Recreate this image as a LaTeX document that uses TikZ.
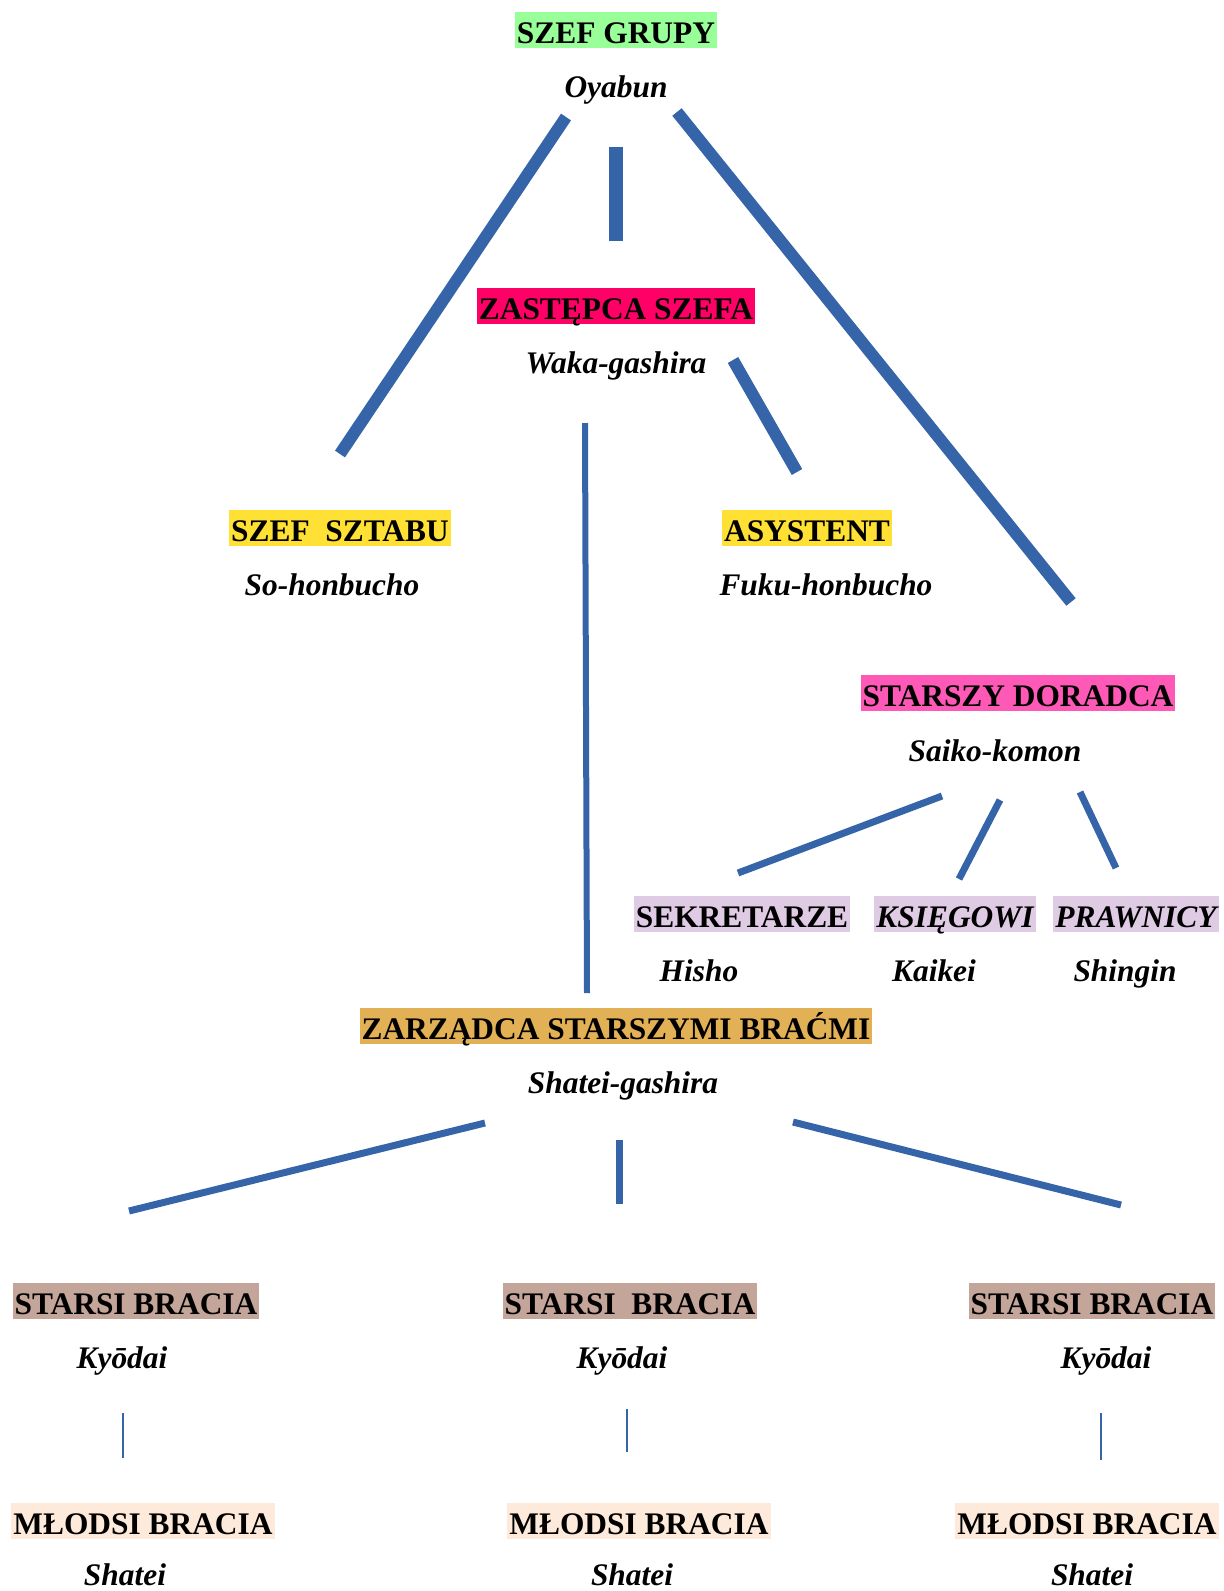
\documentclass[tikz,border=0pt]{standalone}
\usepackage{fontspec}
\setmainfont{Liberation Serif}
\definecolor{lineblue}{HTML}{3565A8}
\definecolor{cgreen}{HTML}{99FF99}
\definecolor{cred}{HTML}{FF0066}
\definecolor{cyellow}{HTML}{FFE135}
\definecolor{cpink}{HTML}{FF59B8}
\definecolor{clav}{HTML}{DFCBE4}
\definecolor{cgold}{HTML}{E2B055}
\definecolor{ctaupe}{HTML}{C4A59A}
\definecolor{cpeach}{HTML}{FDEADA}
\tikzset{
  rolebox/.style={fill=#1, font=\fontsize{15.7}{18}\selectfont\bfseries, inner xsep=1pt, inner ysep=0pt, text height=15.5pt, text depth=2.5pt},
  romaji/.style={font=\fontsize{15.7}{18}\selectfont\bfseries\itshape, inner sep=0pt, text height=15.5pt, text depth=2.5pt},
  conn/.style={draw=lineblue, line width=#1},
}
\begin{document}
\begin{tikzpicture}[x=0.5pt,y=-0.5pt]
\useasboundingbox (0,0) rectangle (1224,1591);
% level 0
\node[rolebox=cgreen] (szef) at (616,30) {SZEF GRUPY};
\node[romaji] (oyabun) at (616,84) {Oyabun};
% level 1
\node[rolebox=cred] (zast) at (616,306) {ZASTĘPCA SZEFA};
\node[romaji] (waka) at (616,360) {Waka-gashira};
% level 2
\node[rolebox=cyellow] (sztab) at (340,528) {SZEF\ \ SZTABU};
\node[romaji] (sohon) at (332,582) {So-honbucho};
\node[rolebox=cyellow] (asys) at (807,528) {ASYSTENT};
\node[romaji] (fuku) at (826,582) {Fuku-honbucho};
% advisor
\node[rolebox=cpink] (dor) at (1018,693) {STARSZY DORADCA};
\node[romaji] (saiko) at (995,748) {Saiko-komon};
\node[rolebox=clav] (sekr) at (742,914) {SEKRETARZE};
\node[romaji] (hisho) at (699,968) {Hisho};
\node[rolebox=clav,font=\fontsize{15.7}{18}\selectfont\bfseries\itshape] (ksieg) at (955,914) {KSIĘGOWI};
\node[romaji] (kaikei) at (934,968) {Kaikei};
\node[rolebox=clav,font=\fontsize{15.7}{18}\selectfont\bfseries\itshape] (praw) at (1136,914) {PRAWNICY};
\node[romaji] (shingin) at (1125,968) {Shingin};
% shatei-gashira
\node[rolebox=cgold] (zarz) at (616,1026) {ZARZĄDCA STARSZYMI BRAĆMI};
\node[romaji] (shg) at (623,1080) {Shatei-gashira};
% elder brothers
\node[rolebox=ctaupe] (sb1) at (136,1301) {STARSI BRACIA};
\node[romaji] (ky1) at (122,1355) {Kyōdai};
\node[rolebox=ctaupe] (sb2) at (630,1301) {STARSI\ \ BRACIA};
\node[romaji] (ky2) at (622,1355) {Kyōdai};
\node[rolebox=ctaupe] (sb3) at (1092,1301) {STARSI BRACIA};
\node[romaji] (ky3) at (1106,1355) {Kyōdai};
% younger brothers
\node[rolebox=cpeach] (mb1) at (143,1521) {MŁODSI BRACIA};
\node[romaji] (sh1) at (125,1572) {Shatei};
\node[rolebox=cpeach] (mb2) at (639,1521) {MŁODSI BRACIA};
\node[romaji] (sh2) at (632,1572) {Shatei};
\node[rolebox=cpeach] (mb3) at (1087,1521) {MŁODSI BRACIA};
\node[romaji] (sh3) at (1092,1572) {Shatei};
% connector end points
\coordinate (a1) at (566,117); \coordinate (a2) at (340,454);
\coordinate (b1) at (616,147); \coordinate (b2) at (616,241);
\coordinate (c1) at (677,112); \coordinate (c2) at (1071,602);
\coordinate (d1) at (733,360); \coordinate (d2) at (797,472);
\coordinate (e1) at (585,423); \coordinate (e2) at (587,993);
\coordinate (f1) at (942,796); \coordinate (f2) at (738,873);
\coordinate (g1) at (1000,800); \coordinate (g2) at (959,879);
\coordinate (h1) at (1080,792); \coordinate (h2) at (1116,868);
\coordinate (i1) at (485,1123); \coordinate (i2) at (129,1211);
\coordinate (j1) at (619,1140); \coordinate (j2) at (619,1204);
\coordinate (k1) at (793,1122); \coordinate (k2) at (1121,1205);
\coordinate (l1) at (123,1413); \coordinate (l2) at (123,1458);
\coordinate (m1) at (627,1409); \coordinate (m2) at (627,1452);
\coordinate (n1) at (1101,1413); \coordinate (n2) at (1101,1460);
% connectors
\draw[conn=6pt] (a1) -- (a2);
\draw[conn=7pt] (b1) -- (b2);
\draw[conn=6pt] (c1) -- (c2);
\draw[conn=6pt] (d1) -- (d2);
\draw[conn=3pt] (e1) -- (e2);
\draw[conn=3.5pt] (f1) -- (f2);
\draw[conn=3.5pt] (g1) -- (g2);
\draw[conn=3.5pt] (h1) -- (h2);
\draw[conn=3.5pt] (i1) -- (i2);
\draw[conn=3.5pt] (j1) -- (j2);
\draw[conn=3.5pt] (k1) -- (k2);
\draw[conn=1.3pt] (l1) -- (l2);
\draw[conn=1.3pt] (m1) -- (m2);
\draw[conn=1.3pt] (n1) -- (n2);
\end{tikzpicture}
\end{document}
